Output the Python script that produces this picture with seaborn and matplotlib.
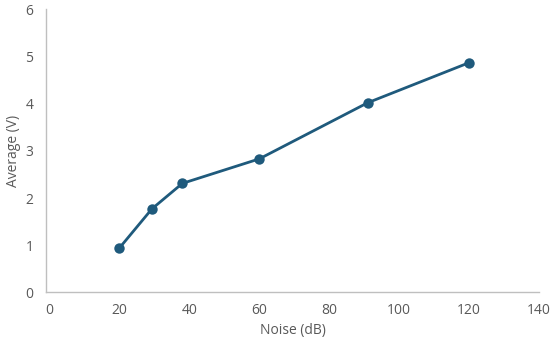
import matplotlib
matplotlib.use("Agg")
import numpy as np
import pandas as pd
import matplotlib.pyplot as plt
import seaborn as sns

# data
noise_db = [20, 29.3, 38, 60, 91, 120]
average_v = [0.94, 1.77, 2.31, 2.83, 4.02, 4.87]
x_ticks = [0, 20, 40, 60, 80, 100, 120, 140]
y_ticks = [0, 1, 2, 3, 4, 5, 6]

df = pd.DataFrame({"Noise (dB)": noise_db, "Average (V)": average_v})

sns.set_style("white")
plt.rcParams['font.family'] = ['Open Sans', 'DejaVu Sans']

fig = plt.figure(figsize=(5.5, 3.48), dpi=100)
ax = fig.add_axes([46 / 550, 0.16, 493 / 550, 0.813])

line_color = "#1F5A7C"
sns.lineplot(data=df, x="Noise (dB)", y="Average (V)", ax=ax,
             color=line_color, linewidth=2.0, marker="o", markersize=7.5,
             markeredgewidth=0, markerfacecolor=line_color)

ax.set_xlim(-1, 140)
ax.set_ylim(0, 6)
ax.set_xticks(x_ticks)
ax.set_yticks(y_ticks)
ax.tick_params(axis="both", length=0, labelsize=10, colors="#595959")
ax.xaxis.set_tick_params(pad=8)
ax.yaxis.set_tick_params(pad=9)

for s in ["top", "right"]:
    ax.spines[s].set_visible(False)
for s in ["left", "bottom"]:
    ax.spines[s].set_color("#BFBFBF")
    ax.spines[s].set_linewidth(1.0)

ax.set_xlabel("Noise (dB)", fontsize=10, color="#595959", labelpad=3)
ax.set_ylabel("Average (V)", fontsize=10, color="#595959", labelpad=3)

fig.savefig("out.png", dpi=100)
